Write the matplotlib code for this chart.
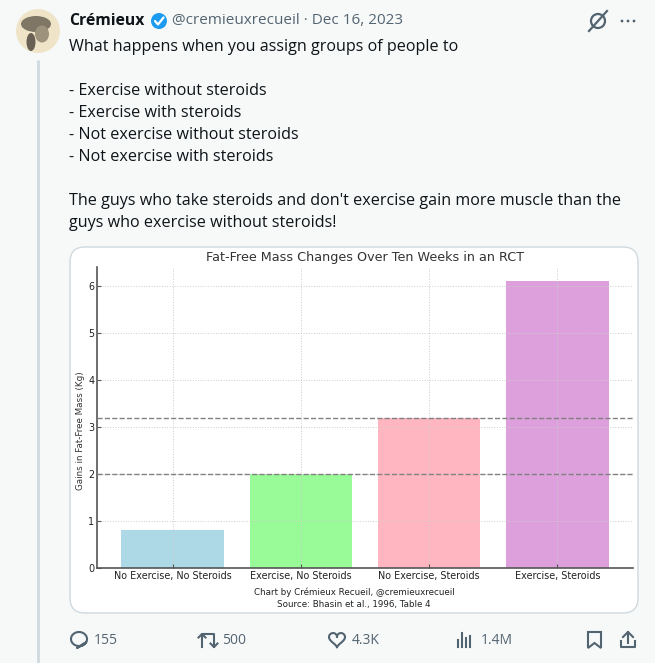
import numpy as np
import matplotlib
matplotlib.use("Agg")
import matplotlib.pyplot as plt
from matplotlib.patches import FancyBboxPatch, Circle, Ellipse, Polygon

W, H = 655, 663

# chart data
categories = ["No Exercise, No Steroids", "Exercise, No Steroids",
              "No Exercise, Steroids", "Exercise, Steroids"]
gains = [0.8, 2.0, 3.2, 6.1]
bar_colors = ["lightblue", "palegreen", "lightpink", "plum"]
ref_lines = [2.0, 3.2]

# tweet content
name = "Crémieux"
handle = "@cremieuxrecueil · Dec 16, 2023"
tweet_lines = [
    "What happens when you assign groups of people to",
    "",
    "- Exercise without steroids",
    "- Exercise with steroids",
    "- Not exercise without steroids",
    "- Not exercise with steroids",
    "",
    "The guys who take steroids and don't exercise gain more muscle than the",
    "guys who exercise without steroids!",
]
counts = ["155", "500", "4.3K", "1.4M"]

TXT = "#0f1419"
GRAY = "#536471"
UI_FONT = ["Open Sans", "DejaVu Sans"]

fig = plt.figure(figsize=(W / 100, H / 100), dpi=100)
fig.patch.set_facecolor("#f7f9f9")

# full-figure axes in pixel units for the tweet chrome
bg = fig.add_axes([0, 0, 1, 1])
bg.set_xlim(0, W)
bg.set_ylim(H, 0)
bg.axis("off")

# avatar + thread line
bg.plot([38, 38], [60, H], color="#cfd9de", lw=2, solid_capstyle="butt")
bg.add_patch(Circle((38, 31), 22, fc="#efe4c8", ec="none"))
bg.add_patch(Ellipse((36, 24), 30, 16, fc="#5a5246", ec="none", alpha=0.75))
bg.add_patch(Ellipse((42, 34), 14, 17, fc="#9d937d", ec="none"))
bg.add_patch(Ellipse((31, 42), 9, 18, fc="#3b352c", ec="none", alpha=0.75))

# header
bg.text(69, 21, name, fontsize=11.3, fontweight="bold", color=TXT,
        family=UI_FONT, va="center")
bg.add_patch(Circle((159, 21), 8, fc="#1d9bf0", ec="none"))
bg.plot([155, 158, 163.5], [21, 24.5, 17.5], color="white", lw=1.6,
        solid_capstyle="round", solid_joinstyle="round")
bg.text(172, 21, handle, fontsize=11, color=GRAY, family=UI_FONT, va="center")
# top-right icons
bg.add_patch(Circle((598, 21), 7, fc="none", ec=GRAY, lw=1.6))
bg.plot([589, 607], [31, 11], color=GRAY, lw=1.6)
for dx in (-6, 0, 6):
    bg.add_patch(Circle((628 + dx, 21), 1.4, fc=GRAY, ec="none"))

# tweet body
y0, step = 47, 22
for i, line in enumerate(tweet_lines):
    if line:
        bg.text(69, y0 + i * step, line, fontsize=11.6, color=TXT,
                family=UI_FONT, va="center")

# chart card
bg.add_patch(FancyBboxPatch((70, 247), 568, 366,
                            boxstyle="round,pad=0,rounding_size=15",
                            fc="white", ec="#cfd9de", lw=1))

# bottom action bar
yb = 640
# reply bubble
t = np.linspace(0.15 * np.pi, 2.35 * np.pi, 60)
bx, by = 79 + 8 * np.cos(t), yb - 1 + 7 * np.sin(t)
bg.plot(bx, by, color=GRAY, lw=1.5)
bg.plot([bx[-1], 77, bx[0] - 2], [by[-1], yb + 8, by[0] + 1], color=GRAY, lw=1.5)
# retweet arrows
bg.plot([202, 202, 207], [yb + 7, yb - 6, yb - 6], color=GRAY, lw=1.5)
bg.plot([198.5, 202, 205.5], [yb - 2.5, yb - 6, yb - 2.5], color=GRAY, lw=1.5)
bg.plot([209, 214, 214], [yb - 6, yb - 6, yb + 7], color=GRAY, lw=1.5)
bg.plot([210.5, 214, 217.5], [yb + 3.5, yb + 7, yb + 3.5], color=GRAY, lw=1.5)
# heart
s = np.linspace(0, 2 * np.pi, 100)
hx = 16 * np.sin(s) ** 3
hy = 13 * np.cos(s) - 5 * np.cos(2 * s) - 2 * np.cos(3 * s) - np.cos(4 * s)
bg.plot(337 + hx * 0.5, yb - 1 - hy * 0.5, color=GRAY, lw=1.5)
# views
for vx, vh in zip([458, 462, 466, 470], [7, 14, 9, 11]):
    bg.plot([vx, vx], [yb + 7, yb + 7 - vh], color=GRAY, lw=1.5)
# bookmark
bg.add_patch(Polygon([[588, 632], [601, 632], [601, 648], [594.5, 643],
                      [588, 648]], closed=True, fc="none", ec=GRAY, lw=1.5))
# share
bg.plot([628, 628], [632, 643], color=GRAY, lw=1.5)
bg.plot([623, 628, 633], [637, 632, 637], color=GRAY, lw=1.5)
bg.plot([621, 621, 635, 635], [641, 647, 647, 641], color=GRAY, lw=1.5)

for x, c in zip([94, 222, 352, 481], counts):
    bg.text(x, yb, c, fontsize=10, color=GRAY, family=UI_FONT, va="center")

# the chart itself
ax = fig.add_axes([97 / W, 1 - 568 / H, (633 - 97) / W, (568 - 267) / H])
ax.set_facecolor("white")
x = np.arange(len(categories))
ax.bar(x, gains, color=bar_colors, width=0.8, zorder=1)
for v in ref_lines:
    ax.axhline(v, color="gray", linestyle="--", lw=1, zorder=3)
ax.grid(True, linestyle=":", color="#cccccc", lw=0.7, zorder=2)
ax.set_axisbelow(False)
ax.set_xticks(x)
ax.set_xticklabels(categories, fontsize=6.9, color="#222222")
ax.tick_params(axis="y", labelsize=6.9, labelcolor="#222222")
ax.tick_params(direction="in", length=3, color="#555555", pad=2)
for side in ("top", "right"):
    ax.spines[side].set_visible(False)
for side in ("left", "bottom"):
    ax.spines[side].set_color("#555555")
    ax.spines[side].set_linewidth(1.2)
ax.set_title("Fat-Free Mass Changes Over Ten Weeks in an RCT",
             fontsize=9.2, color="#333333", pad=4)
ax.set_ylabel("Gains in Fat-Free Mass (Kg)", fontsize=6.3, color="#333333")
ax.yaxis.set_label_coords(-0.022, 0.455)

fig.text(354 / W, 1 - 592 / H, "Chart by Crémieux Recueil, @cremieuxrecueil",
         fontsize=6.3, color="#222222", ha="center", va="center")
fig.text(354 / W, 1 - 604 / H, "Source: Bhasin et al., 1996, Table 4",
         fontsize=6.3, color="#222222", ha="center", va="center")

fig.savefig("out.png", dpi=100, facecolor=fig.get_facecolor())
